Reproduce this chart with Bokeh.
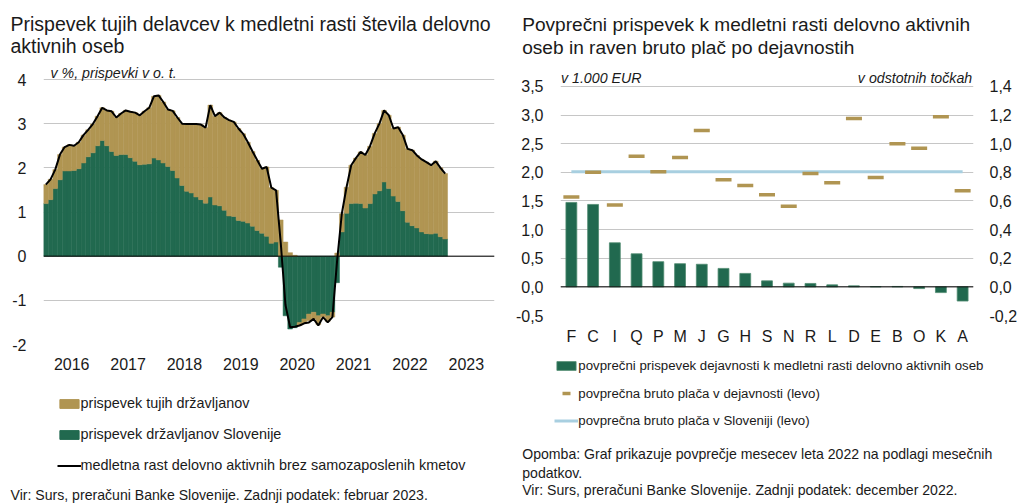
from bokeh.plotting import figure
from bokeh.models import (Range1d, LinearAxis, FixedTicker, Span, Label, Legend,
                          LegendItem, FactorRange)
from bokeh.layouts import row, column
from bokeh.embed import file_html
from bokeh.resources import INLINE

FONT = "Liberation Sans"
GREEN = "#21694f"
GOLD = "#b09552"
BLUE = "#a8cfe0"
TXT = "#1a1a1a"
GRID = "#c6c6c6"

# ---------------- left chart data (monthly, Jan 2016 - Feb 2023) ----------------
years = ["2016", "2017", "2018", "2019", "2020", "2021", "2022", "2023"]
domestic = [1.19, 1.28, 1.53, 1.73, 1.93, 1.93, 1.94, 1.98, 2.11, 2.25,
            2.34, 2.50, 2.62, 2.50, 2.37, 2.28, 2.30, 2.30, 2.23, 2.15,
            2.07, 2.08, 2.09, 2.22, 2.18, 2.11, 2.03, 1.94, 1.77, 1.60,
            1.47, 1.43, 1.34, 1.28, 1.20, 1.34, 1.16, 1.14, 1.04, 0.91,
            0.90, 0.81, 0.79, 0.75, 0.68, 0.58, 0.52, 0.45, 0.29, 0.32,
            -0.25, -1.35, -1.65, -1.62, -1.50, -1.42, -1.31, -1.27, -1.35, -1.31,
            -1.35, -1.27, -0.60,
            0.55, 0.97, 1.19, 1.20, 1.19, 1.09, 1.19, 1.41, 1.48, 1.68,
            1.53, 1.36, 1.24, 1.03, 0.77, 0.69, 0.64, 0.55, 0.51, 0.50,
            0.52, 0.44, 0.39]
foreign = [0.43, 0.46, 0.43, 0.57, 0.54, 0.59, 0.56, 0.60, 0.63, 0.61,
           0.65, 0.67, 0.74, 0.80, 0.91, 0.86, 0.93, 1.00, 1.04, 1.10,
           1.12, 1.20, 1.27, 1.40, 1.46, 1.38, 1.29, 1.35, 1.37, 1.40,
           1.52, 1.56, 1.65, 1.70, 1.71, 2.08, 2.01, 2.11, 2.10, 2.17,
           2.14, 2.08, 1.98, 1.83, 1.69, 1.59, 1.46, 1.57, 1.26, 1.17,
           0.82, 0.32, 0.08, 0.02, -0.07, -0.10, -0.15, -0.15, -0.20, -0.07,
           -0.13, -0.11, 0.07,
           0.41, 0.59, 0.87, 1.02, 1.17, 1.20, 1.30, 1.37, 1.52, 1.62,
           1.66, 1.53, 1.68, 1.71, 1.66, 1.71, 1.64, 1.64, 1.62, 1.56,
           1.63, 1.56, 1.48]
total = [1.62, 1.74, 1.96, 2.30, 2.47, 2.52, 2.50, 2.58, 2.74, 2.86,
         2.99, 3.17, 3.36, 3.30, 3.28, 3.14, 3.23, 3.30, 3.27, 3.25,
         3.19, 3.28, 3.36, 3.62, 3.64, 3.49, 3.32, 3.29, 3.14, 3.00,
         2.99, 2.99, 2.99, 2.98, 2.91, 3.42, 3.17, 3.25, 3.14, 3.08,
         3.04, 2.89, 2.77, 2.58, 2.37, 2.17, 1.98, 2.02, 1.55, 1.49,
         0.30, -1.10, -1.61, -1.60, -1.57, -1.52, -1.50, -1.42, -1.57, -1.38,
         -1.50, -1.38, -0.10,
         0.96, 1.56, 2.06, 2.22, 2.36, 2.29, 2.49, 2.78, 3.00, 3.30,
         3.19, 2.89, 2.92, 2.74, 2.43, 2.40, 2.28, 2.19, 2.13, 2.06,
         2.15, 2.00, 1.87]
left_ticks = [-2, -1, 0, 1, 2, 3, 4]

# ---------------- right chart data ----------------
cats = ["F", "C", "I", "Q", "P", "M", "J", "G", "H", "S", "N", "R", "L",
        "D", "E", "B", "O", "K", "A"]
contrib = [0.590, 0.576, 0.308, 0.231, 0.176, 0.162, 0.158, 0.129, 0.094,
           0.042, 0.026, 0.024, 0.014, 0.007, 0.002, 0.003, -0.012, -0.040, -0.099]
wages = [1.57, 2.00, 1.43, 2.28, 2.01, 2.26, 2.73, 1.87, 1.77, 1.61, 1.41,
         1.98, 1.82, 2.94, 1.91, 2.50, 2.42, 2.97, 1.68]
slo_avg = 2.01
wage_ticks = [-0.5, 0.0, 0.5, 1.0, 1.5, 2.0, 2.5, 3.0, 3.5]
wage_labels = ["-0,5", "0,0", "0,5", "1,0", "1,5", "2,0", "2,5", "3,0", "3,5"]
pp_ticks = [-0.2, 0.0, 0.2, 0.4, 0.6, 0.8, 1.0, 1.2, 1.4]
pp_labels = ["-0,2", "0,0", "0,2", "0,4", "0,6", "0,8", "1,0", "1,2", "1,4"]

NOTE_FS = "14.1px"
SUB_FS = "14.2px"


def no_align(f):
    try:
        f.frame_align = False
    except Exception:
        pass


def style_axis(ax, size="16px", standoff=17):
    ax.axis_line_color = None
    ax.major_tick_line_color = None
    ax.minor_tick_line_color = None
    ax.major_tick_out = 0
    ax.major_tick_in = 0
    ax.major_label_text_font = FONT
    ax.major_label_text_font_size = size
    ax.major_label_text_color = TXT
    ax.major_label_standoff = standoff


def label(p, x, y, text, size=NOTE_FS, style="normal", align="left", units="data"):
    p.add_layout(Label(x=x, y=y, x_units=units, y_units=units, text=text,
                       text_font=FONT, text_font_size=size, text_font_style=style,
                       text_align=align, text_baseline="middle", text_color=TXT))


def blank(w, h):
    # a text/legend canvas: data coords = pixels from its top-left corner
    f = figure(width=w, height=h, x_range=Range1d(0, w), y_range=Range1d(h, 0),
               x_axis_type=None, y_axis_type=None, output_backend="svg",
               toolbar_location=None, min_border=0)
    f.outline_line_color = None
    f.xgrid.grid_line_color = None
    f.ygrid.grid_line_color = None
    no_align(f)
    return f


def make_legend(items, loc, gh, size, spacing=0):
    return Legend(items=items, location=loc, glyph_width=24, glyph_height=gh,
                  label_standoff=0, spacing=spacing, padding=0, margin=0,
                  border_line_color=None, background_fill_alpha=0,
                  inactive_fill_alpha=0,
                  label_text_font=FONT, label_text_font_size=size,
                  label_height=20, label_text_color=TXT)


# ================= LEFT =================
n = len(domestic)
xs = [i + 0.5 for i in range(n)]
for_bottom = [max(d, 0) if f >= 0 else min(d, 0) for d, f in zip(domestic, foreign)]
for_top = [b + f for b, f in zip(for_bottom, foreign)]

h1 = blank(510, 62)
label(h1, 10, 23, "Prispevek tujih delavcev k medletni rasti števila delovno", size="19.5px")
label(h1, 10, 45, "aktivnih oseb", size="19.5px")

p1 = figure(width=510, height=323, x_range=Range1d(0, 12 * len(years)), y_range=Range1d(-2, 4.385),
            output_backend="svg", toolbar_location=None,
            min_border_left=43, min_border_right=16, min_border_top=0, min_border_bottom=41)
no_align(p1)
p1.outline_line_color = None
p1.xgrid.grid_line_color = None
p1.ygrid.ticker = FixedTicker(ticks=left_ticks)
p1.ygrid.grid_line_color = GRID
p1.yaxis.ticker = FixedTicker(ticks=left_ticks)
p1.yaxis.major_label_overrides = {t: str(t) for t in left_ticks}
year_pos = [12 * k + 6 for k in range(len(years))]
p1.xaxis.ticker = FixedTicker(ticks=year_pos)
p1.xaxis.major_label_overrides = {pos: y for pos, y in zip(year_pos, years)}
style_axis(p1.yaxis[0], standoff=17)
style_axis(p1.xaxis[0], standoff=13)

r_dom = p1.vbar(x=xs, bottom=0, top=domestic, width=1, fill_color=GREEN,
                line_color=GREEN, line_width=0.5)
r_for = p1.vbar(x=xs, bottom=for_bottom, top=for_top, width=1, fill_color=GOLD,
                line_color=GOLD, line_width=0.5)
p1.add_layout(Span(location=0, dimension="width", line_color="black", line_width=1))
r_tot = p1.line(x=xs, y=total, line_color="black", line_width=2)
label(p1, 7, 271.5, "v %, prispevki v o. t.", size=SUB_FS, style="italic", units="screen")

# legend canvas (proxy renderers carry the same data but are hidden)
f1 = blank(510, 118)
d_for = f1.vbar(x=xs, bottom=for_bottom, top=for_top, width=1, fill_color=GOLD, line_color=GOLD, visible=False)
d_dom = f1.vbar(x=xs, bottom=0, top=domestic, width=1, fill_color=GREEN, line_color=GREEN, visible=False)
d_tot = f1.line(x=xs, y=total, line_color="black", line_width=2, visible=False)
f1.add_layout(make_legend([
    LegendItem(label="prispevek tujih državljanov", renderers=[d_for]),
    LegendItem(label="prispevek državljanov Slovenije", renderers=[d_dom]),
    LegendItem(label="medletna rast delovno aktivnih brez samozaposlenih kmetov", renderers=[d_tot]),
], (56.6, 28), 11, "14.4px", spacing=11))
label(f1, 10, 109, "Vir: Surs, preračuni Banke Slovenije. Zadnji podatek: februar 2023.")

# ================= RIGHT =================
h2 = blank(510, 62)
label(h2, 11.7, 24, "Povprečni prispevek k medletni rasti delovno aktivnih", size="19.1px")
label(h2, 11.7, 47, "oseb in raven bruto plač po dejavnostih", size="19.1px")

p2 = figure(width=510, height=288, x_range=FactorRange(factors=cats, range_padding=0),
            y_range=Range1d(-0.5, 3.919), output_backend="svg", toolbar_location=None,
            min_border_left=50, min_border_right=44, min_border_top=0, min_border_bottom=35)
no_align(p2)
p2.extra_y_ranges = {"right": Range1d(-0.2, 0.4 * 3.919)}
p2.add_layout(LinearAxis(y_range_name="right"), "right")
p2.outline_line_color = None
p2.xgrid.grid_line_color = None
p2.ygrid.ticker = FixedTicker(ticks=wage_ticks)
p2.ygrid.grid_line_color = GRID
p2.yaxis[0].ticker = FixedTicker(ticks=wage_ticks)
p2.yaxis[0].major_label_overrides = dict(zip(wage_ticks, wage_labels))
p2.yaxis[1].ticker = FixedTicker(ticks=pp_ticks)
p2.yaxis[1].major_label_overrides = dict(zip(pp_ticks, pp_labels))
style_axis(p2.yaxis[0], standoff=17)
style_axis(p2.yaxis[1], standoff=16)
style_axis(p2.xaxis[0], standoff=12)

r_bar = p2.vbar(x=cats, top=contrib, width=0.5, y_range_name="right", fill_color=GREEN,
                line_color="#4f8a70", line_width=0.8)
p2.add_layout(Span(location=0, dimension="width", line_color="black", line_width=1))
r_slo = p2.line(x=cats, y=[slo_avg] * len(cats), line_color=BLUE, line_width=3)
r_wage = p2.scatter(x=cats, y=wages, marker="dash", size=16, line_color=GOLD, line_width=3.5)
label(p2, 0.5, 238, "v 1.000 EUR", size=SUB_FS, style="italic", units="screen")
label(p2, 411.7, 238, "v odstotnih točkah", size=SUB_FS, style="italic", align="right", units="screen")

f2 = blank(510, 153)
d_bar = f2.vbar(x=cats, top=contrib, width=0.5, fill_color=GREEN, line_color="#4f8a70",
                line_width=0.8, visible=False)
d_wage = f2.scatter(x=cats, y=wages, marker="dash", size=16, line_color=GOLD, line_width=3.5, visible=False)
d_slo = f2.line(x=cats, y=[slo_avg] * len(cats), line_color=BLUE, line_width=3, visible=False)
f2.add_layout(make_legend([LegendItem(label="povprečni prispevek dejavnosti k medletni rasti delovno aktivnih oseb",
                                      renderers=[d_bar])], (44.3, 128), 11, "13.25px"))
f2.add_layout(make_legend([LegendItem(label="povprečna bruto plača v dejavnosti (levo)",
                                      renderers=[d_wage])], (44.3, 99.7), 20, "13.25px"))
f2.add_layout(make_legend([LegendItem(label="povprečna bruto plača v Sloveniji (levo)",
                                      renderers=[d_slo])], (44.3, 72.3), 11, "13.25px"))
label(f2, 11.7, 103, "Opomba: Graf prikazuje povprečje mesecev leta 2022 na podlagi mesečnih")
label(f2, 11.7, 122.5, "podatkov.")
label(f2, 11.7, 139, "Vir: Surs, preračuni Banke Slovenije. Zadnji podatek: december 2022.")

layout = row(column(h1, p1, f1), column(h2, p2, f2))
open("out.html", "w").write(file_html(layout, INLINE))
